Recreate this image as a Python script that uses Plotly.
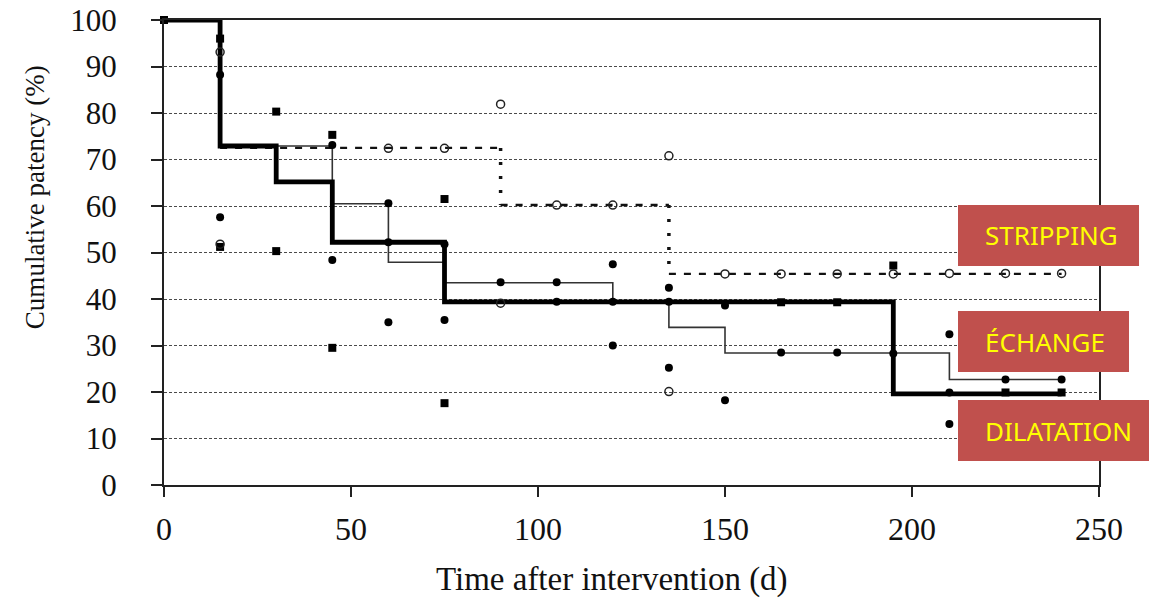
import plotly.graph_objects as go

# ---- Data ----
# Kaplan-Meier style step curves (time in days, cumulative patency %)
dil_t = [0, 15, 30, 45, 75, 195, 240]
dil_v = [100, 72.9, 65.2, 52.2, 39.4, 19.6, 19.6]

ech_t = [0, 15, 45, 60, 75, 120, 135, 150, 210, 240]
ech_v = [100, 72.9, 60.5, 47.9, 43.5, 39.2, 33.9, 28.4, 22.7, 22.7]

str_t = [0, 15, 90, 135, 240]
str_v = [100, 72.5, 60.2, 45.4, 45.4]

# Point markers
sq_t = [0, 15, 15, 30, 30, 45, 45, 75, 75, 165, 180, 195, 225, 240]
sq_v = [100, 96.0, 51.2, 80.3, 50.3, 75.3, 29.5, 61.5, 17.6, 39.3, 39.3, 47.2, 19.9, 19.9]

fc_t = [15, 15, 45, 45, 60, 60, 60, 75, 75, 90, 105, 105, 120, 120, 120,
        135, 135, 135, 150, 150, 165, 180, 195, 210, 210, 210, 225, 240]
fc_v = [88.2, 57.6, 73.1, 48.4, 60.6, 52.2, 35.0, 51.8, 35.5, 43.6, 43.6, 39.4, 47.5, 39.4, 30.0,
        42.4, 39.4, 25.2, 38.6, 18.2, 28.5, 28.5, 28.3, 32.4, 19.9, 13.1, 22.7, 22.7]

oc_t = [15, 15, 60, 75, 90, 90, 105, 120, 135, 135, 150, 165, 180, 195, 210, 225, 240]
oc_v = [93.1, 51.8, 72.4, 72.4, 81.9, 39.1, 60.2, 60.2, 70.8, 20.1, 45.4, 45.4, 45.4, 45.4, 45.5, 45.5, 45.5]

x_ticks = [0, 50, 100, 150, 200, 250]
y_ticks = [0, 10, 20, 30, 40, 50, 60, 70, 80, 90, 100]

labels = ["STRIPPING", "ÉCHANGE", "DILATATION"]

fig = go.Figure()

# Stripping: horizontal dashed segments, vertical dotted drops (derived from arrays)
h_x, h_y, v_x, v_y = [], [], [], []
for i in range(len(str_t) - 1):
    h_x += [str_t[i], str_t[i + 1], None]
    h_y += [str_v[i], str_v[i], None]
    v_x += [str_t[i + 1], str_t[i + 1], None]
    v_y += [str_v[i], str_v[i + 1], None]
fig.add_trace(go.Scatter(x=h_x, y=h_y, mode="lines",
                         line=dict(color="#111", width=2.4, dash="7px,8px"),
                         showlegend=False, hoverinfo="skip"))
fig.add_trace(go.Scatter(x=v_x, y=v_y, mode="lines",
                         line=dict(color="#111", width=3.5, dash="3px,11px"),
                         showlegend=False, hoverinfo="skip"))

# Echange: thin line
fig.add_trace(go.Scatter(x=ech_t, y=ech_v, mode="lines", line_shape="hv",
                         line=dict(color="#333", width=1.6),
                         showlegend=False, hoverinfo="skip"))
# Dilatation: thick line
fig.add_trace(go.Scatter(x=dil_t, y=dil_v, mode="lines", line_shape="hv",
                         line=dict(color="#000", width=4.8),
                         showlegend=False, hoverinfo="skip"))

# Markers
fig.add_trace(go.Scatter(x=sq_t, y=sq_v, mode="markers",
                         marker=dict(symbol="square", size=8, color="#000"),
                         showlegend=False, cliponaxis=False))
fig.add_trace(go.Scatter(x=fc_t, y=fc_v, mode="markers",
                         marker=dict(symbol="circle", size=8, color="#000"),
                         showlegend=False, cliponaxis=False))
fig.add_trace(go.Scatter(x=oc_t, y=oc_v, mode="markers",
                         marker=dict(symbol="circle-open", size=8, color="#222",
                                     line=dict(width=1.5)),
                         showlegend=False, cliponaxis=False))

serif = "Liberation Serif"

fig.update_xaxes(range=[0, 250], tickvals=x_ticks, ticks="outside", ticklen=10,
                 tickwidth=1.5, tickcolor="#222",
                 showline=True, linecolor="#222", linewidth=1.6, mirror=True,
                 showgrid=False, zeroline=False, automargin=False,
                 ticklabeloverflow="allow",
                 tickfont=dict(family=serif, size=32, color="#111"),
                 ticklabelstandoff=5)
fig.update_yaxes(range=[0, 100], tickvals=y_ticks, ticks="outside", ticklen=11,
                 tickwidth=1.5, tickcolor="#222",
                 showline=True, linecolor="#222", linewidth=2, mirror=True,
                 showgrid=True, gridcolor="#4a4a4a", gridwidth=1, griddash="3px,2px",
                 zeroline=False, automargin=False,
                 ticklabeloverflow="allow",
                 tickfont=dict(family=serif, size=31, color="#111"),
                 ticklabelstandoff=28)

# Axis titles
fig.add_annotation(x=-0.138, y=0.619, xref="paper", yref="paper", showarrow=False,
                   text="Cumulative patency (%)", textangle=-90,
                   xanchor="center", yanchor="middle",
                   font=dict(family=serif, size=27, color="#111"))
fig.add_annotation(x=0.479, y=-0.204, xref="paper", yref="paper", showarrow=False,
                   text="Time after intervention (d)",
                   xanchor="center", yanchor="middle",
                   font=dict(family=serif, size=33, color="#111"))

# Label boxes (paper coordinates)
box_specs = [
    (0.8492, 1.0428, 0.4710, 0.6022),
    (0.8492, 1.0321, 0.2430, 0.3742),
    (0.8492, 1.0535, 0.0516, 0.1828),
]
for lab, (x0, x1, y0, y1) in zip(labels, box_specs):
    fig.add_shape(type="rect", xref="paper", yref="paper", x0=x0, x1=x1, y0=y0, y1=y1,
                  fillcolor="#C0504D", line=dict(width=0), layer="above")
    fig.add_annotation(x=0.8759, y=(y0 + y1) / 2, xref="paper", yref="paper",
                       xanchor="left", yanchor="middle", showarrow=False, text=lab,
                       font=dict(family="Noto Sans", size=26, color="#FFFF00"))

fig.update_layout(width=1149, height=601, plot_bgcolor="white", paper_bgcolor="white",
                  margin=dict(l=164, r=50, t=20, b=116), showlegend=False)

fig.write_html("out.html", config={"displayModeBar": False},
               post_script="document.body.style.margin='0';")
